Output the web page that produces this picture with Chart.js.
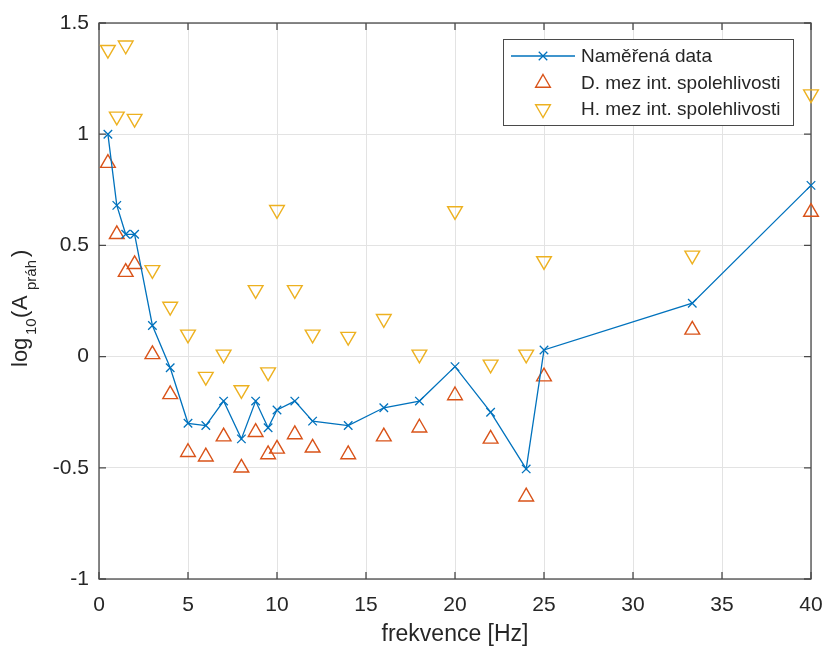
<!DOCTYPE html>
<html>
<head>
<meta charset="utf-8">
<script src="https://cdn.jsdelivr.net/npm/chart.js@4.4.0/dist/chart.umd.min.js"></script>
<style>
  html, body { margin: 0; padding: 0; background: #fff; }
</style>
</head>
<body>
<canvas id="chart" width="825" height="646"></canvas>
<script>
// data
const freq = [0.5, 1, 1.5, 2, 3, 4, 5, 6, 7, 8, 8.8, 9.5, 10, 11, 12, 14, 16, 18, 20, 22, 24, 25, 33.33, 40];
const measured = [1.00, 0.68, 0.55, 0.55, 0.14, -0.05, -0.30, -0.31, -0.20, -0.37, -0.20, -0.32, -0.24, -0.20, -0.29, -0.31, -0.23, -0.20, -0.045, -0.25, -0.505, 0.03, 0.24, 0.77];
const lowerBound = [0.87, 0.55, 0.38, 0.415, 0.01, -0.17, -0.43, -0.45, -0.36, -0.50, -0.34, -0.44, -0.415, -0.35, -0.41, -0.44, -0.36, -0.32, -0.175, -0.37, -0.63, -0.09, 0.12, 0.65];
const upperBound = [1.38, 1.08, 1.40, 1.07, 0.39, 0.225, 0.10, -0.09, 0.01, -0.15, 0.30, -0.07, 0.66, 0.30, 0.10, 0.09, 0.17, 0.01, 0.655, -0.035, 0.01, 0.43, 0.455, 1.18];

const xTicks = [0, 5, 10, 15, 20, 25, 30, 35, 40];
const yTicks = [-1, -0.5, 0, 0.5, 1, 1.5];

const seriesNames = ["Naměřená data", "D. mez int. spolehlivosti", "H. mez int. spolehlivosti"];
const xTitle = "frekvence [Hz]";
// y title pieces: text, subscript flag, start offset along the label
const yTitleParts = [
    { t: "log", sub: false, at: 0 },
    { t: "10", sub: true, at: 32 },
    { t: "(", sub: false, at: 49 },
    { t: "A", sub: false, at: 57 },
    { t: "práh", sub: true, at: 77 },
    { t: ")", sub: false, at: 110 }
];

const FONT = '"Liberation Sans", Arial, sans-serif';
const TEXT = '#262626';
const AXIS = '#4a4a4a';

const toPoints = (xs, ys) => xs.map((x, i) => ({ x: x, y: ys[i] }));

// 1. Box round the axes with inward ticks on all four sides
const matlabBox = {
    id: 'matlabBox',
    beforeDatasetsDraw(chart) {
        const { ctx, chartArea: a, scales: { x, y } } = chart;
        const len = 7;
        ctx.save();
        ctx.strokeStyle = AXIS;
        ctx.lineWidth = 1.3;
        ctx.strokeRect(a.left, a.top, a.right - a.left, a.bottom - a.top);
        ctx.beginPath();
        xTicks.forEach(v => {
            const px = x.getPixelForValue(v);
            ctx.moveTo(px, a.bottom); ctx.lineTo(px, a.bottom - len);
            ctx.moveTo(px, a.top); ctx.lineTo(px, a.top + len);
        });
        yTicks.forEach(v => {
            const py = y.getPixelForValue(v);
            ctx.moveTo(a.left, py); ctx.lineTo(a.left + len, py);
            ctx.moveTo(a.right, py); ctx.lineTo(a.right - len, py);
        });
        ctx.stroke();
        ctx.restore();
    }
};

// 2. Y axis title with subscripts
const yTitle = {
    id: 'yTitle',
    afterDraw(chart) {
        const ctx = chart.ctx;
        ctx.save();
        ctx.translate(27, 367);
        ctx.rotate(-Math.PI / 2);
        ctx.fillStyle = TEXT;
        ctx.textAlign = 'left';
        ctx.textBaseline = 'alphabetic';
        yTitleParts.forEach(p => {
            ctx.font = (p.sub ? '15px ' : '22px ') + FONT;
            ctx.fillText(p.t, p.at, p.sub ? 9 : 0);
        });
        ctx.restore();
    }
};

// 3. Legend inside the axes, top right
const insideLegend = {
    id: 'insideLegend',
    afterDraw(chart) {
        const ctx = chart.ctx;
        const box = { x: 503, y: 39, w: 290, h: 86 };
        const rows = [56, 83, 109];
        ctx.save();
        ctx.fillStyle = '#fff';
        ctx.fillRect(box.x, box.y, box.w, box.h);
        ctx.strokeStyle = AXIS;
        ctx.lineWidth = 1;
        ctx.strokeRect(box.x + 0.5, box.y + 0.5, box.w, box.h);
        chart.data.datasets.forEach((ds, i) => {
            const yy = rows[i];
            ctx.strokeStyle = ds.borderColor;
            ctx.lineWidth = ds.borderWidth;
            if (ds.showLine) {
                ctx.beginPath();
                ctx.moveTo(511, yy);
                ctx.lineTo(575, yy);
                ctx.stroke();
            }
            ctx.fillStyle = 'rgba(0,0,0,0)';
            Chart.helpers.drawPoint(ctx, {
                pointStyle: ds.pointStyle,
                radius: ds.pointRadius,
                rotation: ds.pointRotation || 0,
                borderWidth: ds.pointBorderWidth
            }, 543, yy);
            ctx.fillStyle = TEXT;
            ctx.font = '19px ' + FONT;
            ctx.textBaseline = 'middle';
            ctx.fillText(ds.label, 581, yy + 1);
        });
        ctx.restore();
    }
};

const data = {
    datasets: [{
        label: seriesNames[0],
        data: toPoints(freq, measured),
        showLine: true,
        borderColor: '#0072BD',
        backgroundColor: 'rgba(0,0,0,0)',
        borderWidth: 1.3,
        pointStyle: 'crossRot',
        pointRadius: 6,
        pointBorderWidth: 1.3,
        clip: false
    }, {
        label: seriesNames[1],
        data: toPoints(freq, lowerBound),
        showLine: false,
        borderColor: '#D95319',
        backgroundColor: 'rgba(0,0,0,0)',
        borderWidth: 1.4,
        pointStyle: 'triangle',
        pointRadius: 8.5,
        pointBorderWidth: 1.4,
        clip: false
    }, {
        label: seriesNames[2],
        data: toPoints(freq, upperBound),
        showLine: false,
        borderColor: '#EDB120',
        backgroundColor: 'rgba(0,0,0,0)',
        borderWidth: 1.4,
        pointStyle: 'triangle',
        pointRotation: 180,
        pointRadius: 8.5,
        pointBorderWidth: 1.4,
        clip: false
    }]
};

const config = {
    type: 'scatter',
    data: data,
    options: {
        responsive: false,
        animation: false,
        layout: { padding: { left: 0, top: 23, right: 14, bottom: 0 } },
        plugins: {
            legend: { display: false },
            tooltip: { enabled: false }
        },
        scales: {
            x: {
                type: 'linear',
                min: 0,
                max: 40,
                afterBuildTicks: s => { s.ticks = xTicks.map(v => ({ value: v })); },
                afterFit: s => { s.height = 67; s.paddingLeft = 0; s.paddingRight = 0; },
                grid: { color: '#e3e3e3', lineWidth: 1, drawTicks: false, tickLength: 0 },
                border: { display: false },
                ticks: { color: TEXT, font: { family: FONT, size: 21 }, padding: 14, maxRotation: 0, callback: v => String(v) },
                title: {
                    display: true,
                    text: xTitle,
                    color: TEXT,
                    font: { family: FONT, size: 23, lineHeight: 1 },
                    padding: { top: 0, bottom: 0 }
                }
            },
            y: {
                type: 'linear',
                min: -1,
                max: 1.5,
                afterBuildTicks: s => { s.ticks = yTicks.map(v => ({ value: v })); },
                afterFit: s => { s.width = 99; s.paddingTop = 0; s.paddingBottom = 0; },
                grid: { color: '#e3e3e3', lineWidth: 1, drawTicks: false, tickLength: 0 },
                border: { display: false },
                ticks: { color: TEXT, font: { family: FONT, size: 21 }, padding: 10, callback: v => String(v) }
            }
        }
    },
    plugins: [matlabBox, yTitle, insideLegend]
};

const myChart = new Chart(document.getElementById('chart'), config);
</script>
</body>
</html>
